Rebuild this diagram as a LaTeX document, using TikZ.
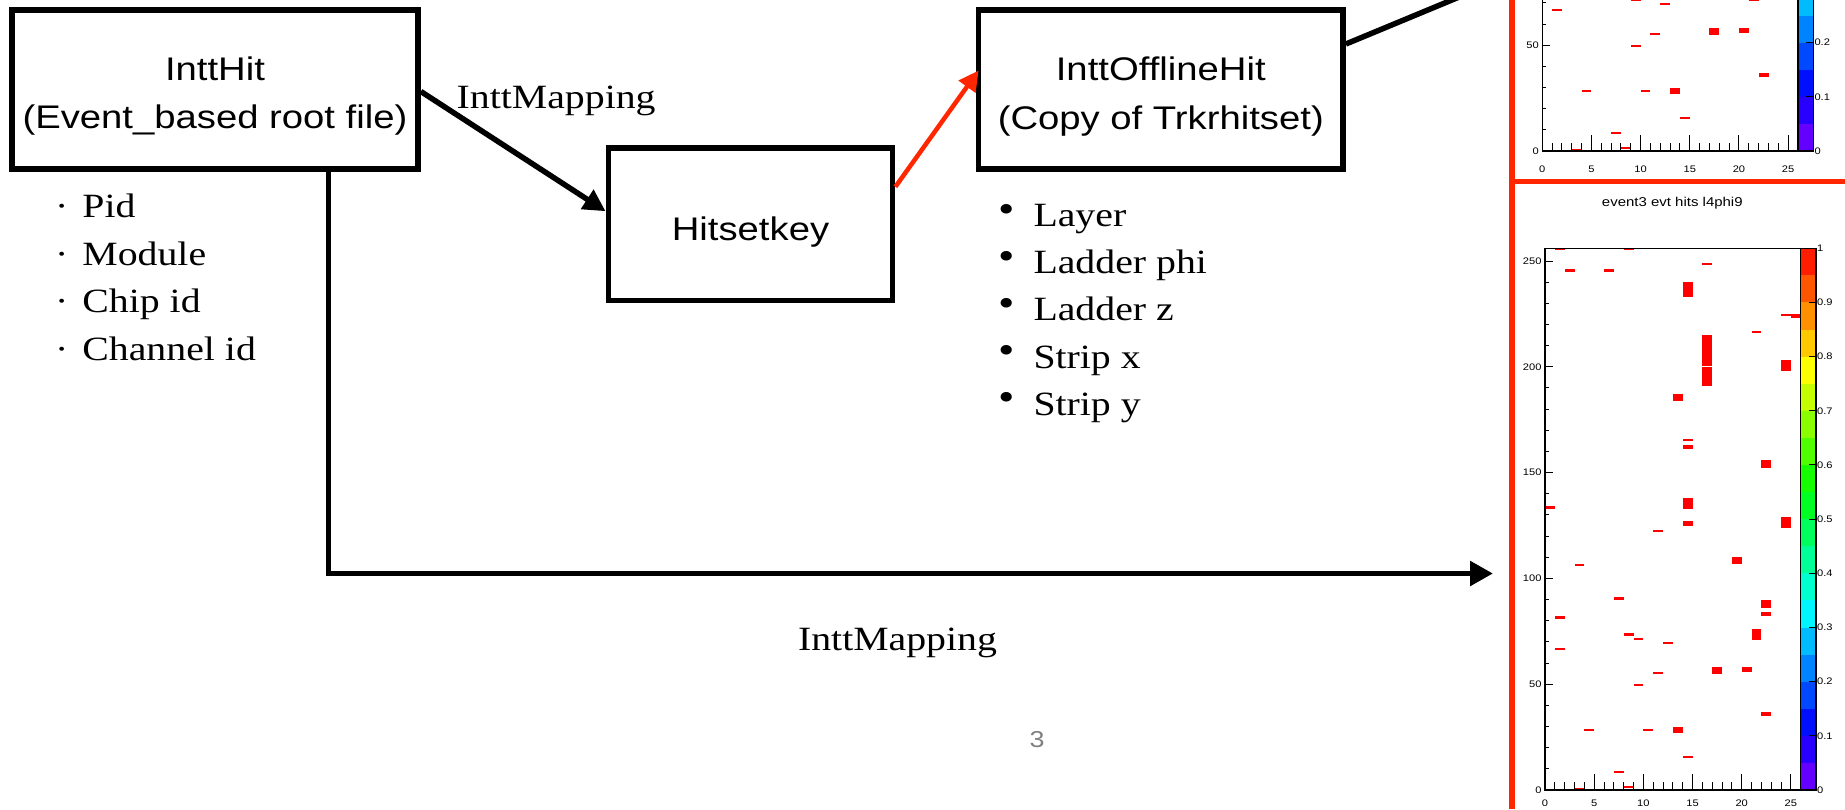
\documentclass[tikz,border=0pt]{standalone}
\usepackage{fontspec}
\usetikzlibrary{arrows.meta,calc}
\newfontfamily\boxsans[FakeStretch=1.17]{Liberation Sans}
\newfontfamily\listserif[FakeStretch=1.17]{Liberation Serif}
\definecolor{slidered}{RGB}{255,38,0}
\definecolor{hitred}{RGB}{255,0,0}
\definecolor{pagegray}{RGB}{128,128,128}

% #1 = y-axis labels, #2 = colour-bar labels (index/label), #3 = drop of x labels below axis
\newcommand\hitplotbody[3]{%
  \foreach \i in {0,...,19}{%
    \pgfmathsetmacro\hh{0.75*(1-(\i+0.5)/20)}%
    \definecolor{cbc}{hsb}{\hh,1,1}%
    \fill[cbc] (26,{12.8*\i}) rectangle (27.556,{12.8*(\i+1)});}%
  \foreach \bx/\ya/\yb in {1/255/256,8/255/256,2/245/246,6/245/246,16/248/249,
      14/233/240,24/224/225,25/223/225,21/216/217,16/200.5/215,16/191/200,
      24/198/203,13/184/187,14/165/166,14/161/163,22/152/156,0/133/134,
      14/133/138,14/125/127,24/124/129,11/122/123,3/106/107,19/107/110,
      7/90/91,22/86/90,22/82/84,1/81/82,21/71/76,8/73/74,9/71/72,1/66/67,
      12/69/70,17/55/58,20/56/58,11/55/56,9/49/50,22/35/37,4/28/29,10/28/29,
      13/27/30,14/15/16,7/8/9,3/0/1,8/1/2}{%
    \fill[hitred] (\bx,\ya) rectangle ({\bx+1},\yb);}%
  \foreach \v in {10,20,...,250}{\draw[tickline] (0,\v) -- ++(4pt,0pt);}%
  \foreach \v in {0,50,...,250}{\draw[tickline] (0,\v) -- ++(8pt,0pt);}%
  \foreach \v in {#1}{\node[ticklab,anchor=east] at ([xshift=-3.3pt]0,\v) {\v};}%
  \foreach \v in {1,...,25}{\draw[tickline] (\v,0) -- ++(0pt,8pt);}%
  \foreach \v in {5,10,...,25}{\draw[tickline] (\v,0) -- ++(0pt,16pt);}%
  \foreach \v in {0,5,...,25}{\node[ticklab] at ([yshift=-#3]\v,0) {\v};}%
  \foreach \k in {0,...,10}{\draw[tickline] (27.556,{25.6*\k}) -- ++(-7pt,0pt);}%
  \foreach \k/\lab in {#2}{%
    \node[ticklab,anchor=west] at ([xshift=1pt]27.556,{25.6*\k}) {\lab};}%
  \draw[frameline] (0,0) rectangle (26,256);
  \draw[frameline] (26,0) rectangle (27.556,256);
}

\begin{document}
\begin{tikzpicture}[x=1pt,y=-1pt,
  boxnode/.style={draw, line width=5.8pt, rectangle, inner sep=0pt},
  boxtext/.style={anchor=base, inner sep=0pt, font=\boxsans\fontsize{32.7}{39}\selectfont},
  listtext/.style={anchor=base west, inner sep=0pt, font=\listserif\fontsize{34}{40}\selectfont},
  bulletnode/.style={anchor=base, inner sep=0pt, font=\listserif\fontsize{40}{40}\selectfont},
  labelserif/.style={inner sep=0pt, font=\listserif\fontsize{34}{40}\selectfont},
  conn/.style={line width=5.5pt, -{Triangle[length=22pt,width=22pt]}},
  connbig/.style={line width=5.5pt, line join=miter, -{Triangle[length=23pt,width=24pt]}},
  connred/.style={draw=slidered, line width=4.5pt, -{Triangle[length=20pt,width=20pt]}, slidered},
  connline/.style={line width=5.5pt},
  tickline/.style={line width=1pt},
  frameline/.style={line width=1.1pt},
  ticklab/.style={inner sep=0pt, font=\boxsans\fontsize{9.5}{11}\selectfont},
  plottitle/.style={anchor=base, inner sep=0pt, font=\boxsans\fontsize{12.8}{15}\selectfont}
]
\useasboundingbox (0,0) rectangle (1845,809);
\clip (0,0) rectangle (1845,809);
\fill[white] (0,0) rectangle (1845,809);

% ---------- plots ----------
\begin{scope}
  \clip (1515,0) rectangle (1845,178.5);
  \begin{scope}[shift={(1542.3,151)}, x=9.834pt, y=2.116pt]
    \hitplotbody{0,50}{0/0,1/0.1,2/0.2}{18pt}
  \end{scope}
\end{scope}
\begin{scope}[shift={(1545,790)}, x=9.834pt, y=2.116pt]
  \hitplotbody{0,50,...,250}{0/0,1/0.1,2/0.2,3/0.3,4/0.4,5/0.5,6/0.6,7/0.7,8/0.8,9/0.9,10/1}{13.5pt}
\end{scope}
\node[plottitle] (ttl) at (1672.3,206) {event3 evt hits l4phi9};

% red separators
\draw[slidered, line width=6pt] (1512,0) -- (1512,809);
\draw[slidered, line width=5.5pt] (1512,181.5) -- (1845,181.5);

% ---------- boxes ----------
\node[boxnode, minimum width=406pt, minimum height=159pt] (hit) at (215,89.5) {};
\node[boxtext] (hitA) at (215,80.7) {InttHit};
\node[boxtext] (hitB) at (215,128.3) {(Event\_based root file)};

\node[boxnode, minimum width=284pt, minimum height=152.5pt] (hsk) at (750.5,224.25) {};
\node[boxtext] (hskA) at (750.5,240.7) {Hitsetkey};

\node[boxnode, minimum width=364.5pt, minimum height=159pt] (ioh) at (1160.75,89.5) {};
\node[boxtext] (iohA) at (1160.75,80.7) {InttOfflineHit};
\node[boxtext] (iohB) at (1160.75,129.3) {(Copy of Trkrhitset)};

% ---------- lists ----------
\foreach \t [count=\i from 0] in {Pid,Module,Chip id,Channel id}{%
  \node[listtext] (la\i) at (55,{217.3+47.8*\i}) {·\hspace{14pt}\t};}
\foreach \t [count=\i from 0] in {Layer,Ladder phi,Ladder z,Strip x,Strip y}{%
  \node[bulletnode] (rb\i) at (1006.7,{226.7+47.1*\i}) {\raisebox{4.5pt}{•}};
  \node[listtext] (ra\i) at (1033.3,{226.7+47.1*\i}) {\t};}

% ---------- connectors ----------
\draw[conn] ($(hit.east)+(0,2)$) -- ($(hsk.west)+(0,-13)$);
\draw[connred] ($(hsk.east)+(0,-37.5)$) -- ($(ioh.west)+(3,-19)$);
\coordinate (offtop) at (1490,-15.8);
\draw[connline] ($(ioh.east)+(0,-45.5)$) -- (offtop);
\coordinate (cor) at (328.5,573.5);
\coordinate (tgt) at (1493,573.5);
\draw[connbig] (hit.south -| cor) -- (cor) -- (tgt);

% ---------- labels ----------
\node[labelserif, anchor=base west] (mapA) at (456.5,108) {InttMapping};
\node[labelserif, anchor=base] (mapB) at (897.5,650.5) {InttMapping};
\node[inner sep=0pt, anchor=base, text=pagegray, font=\boxsans\fontsize{23}{27}\selectfont] (pg) at (1037,747.3) {3};
\end{tikzpicture}
\end{document}
